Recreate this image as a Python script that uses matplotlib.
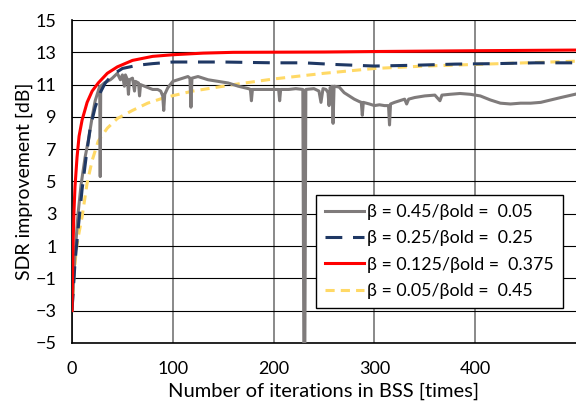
import matplotlib
matplotlib.use('Agg')
import matplotlib.pyplot as plt

plt.rcParams['font.family'] = ['Lato', 'DejaVu Sans']

# beta = 0.45 / beta_old = 0.05 (gray, noisy)
g_x = [0, 3, 6, 9, 13, 17, 20, 23, 26, 27.5, 28, 28.5, 32, 38, 40, 45, 48, 50, 52, 53, 55, 56, 57,
       60, 62, 63, 66, 67, 68, 72, 76, 80, 85, 88, 90, 91, 92, 95, 100, 105, 110, 115, 117, 118,
       119, 125, 135, 145, 155, 165, 175, 177, 178, 179, 185, 195, 205, 206, 207, 215, 222, 229,
       230, 231, 232, 240, 245, 247, 249, 252, 254, 255, 256, 258, 259, 260, 265, 270, 275, 280,
       285, 287, 288, 289, 295, 300, 305, 310, 314, 315, 316, 320, 325, 330, 332, 334, 340, 350,
       360, 365, 367, 375, 385, 395, 405, 415, 425, 435, 445, 455, 465, 475, 485, 499]
g_y = [-3, 0.5, 3, 4.8, 6.5, 7.8, 9, 10, 10.6, 10.9, 5.3, 10.9, 11.1, 11.3, 11.4, 11.7, 11.3, 11.6,
       10.9, 11.6, 11.3, 10.4, 11.3, 11.4, 10.6, 11.2, 11.1, 10.3, 11.0, 10.9, 10.8, 10.7, 10.7,
       10.6, 10.3, 9.4, 10.4, 10.8, 11.2, 11.3, 11.4, 11.5, 11.4, 9.6, 11.4, 11.5, 11.3, 11.2, 11.1,
       10.9, 10.75, 10.7, 10.0, 10.7, 10.7, 10.7, 10.7, 10.0, 10.7, 10.7, 10.75, 10.7, -5.5, -5.5,
       10.7, 10.75, 10.6, 9.9, 10.75, 10.7, 10.5, 9.7, 10.8, 10.9, 8.6, 10.9, 10.85, 10.5, 10.3,
       10.1, 9.95, 9.9, 9.1, 9.9, 9.8, 9.7, 9.75, 9.7, 9.7, 8.5, 9.8, 9.9, 10.0, 10.1, 9.8, 10.1,
       10.2, 10.3, 10.35, 10.0, 10.35, 10.4, 10.45, 10.4, 10.3, 10.05, 9.85, 9.8, 9.85, 9.85, 9.9,
       10.05, 10.2, 10.4]

# beta = 0.25 / beta_old = 0.25 (navy dashed)
n_x = [0, 3, 6, 10, 14, 18, 23, 28, 33, 40, 50, 65, 80, 100, 150, 200, 230, 260, 300, 340, 380,
       420, 460, 499]
n_y = [-3, 0, 2, 4.5, 6.5, 8.3, 9.6, 10.5, 11.1, 11.6, 12.0, 12.2, 12.3, 12.4, 12.4, 12.35, 12.35,
       12.25, 12.15, 12.2, 12.27, 12.3, 12.35, 12.35]

# beta = 0.125 / beta_old = 0.375 (red)
r_x = [0, 1, 2, 3, 4, 5, 7, 10, 15, 20, 26, 35, 45, 60, 80, 100, 130, 160, 250, 300, 400, 499]
r_y = [-3, 1, 3.2, 4.7, 5.6, 6.5, 7.8, 8.8, 9.9, 10.6, 11.1, 11.7, 12.1, 12.5, 12.75, 12.85, 12.95,
       13.0, 13.02, 13.05, 13.1, 13.14]

# beta = 0.05 / beta_old = 0.45 (yellow dashed)
y_x = [0, 2, 4, 6, 10, 15, 20, 26, 35, 45, 60, 75, 92, 120, 160, 200, 250, 300, 350, 400, 450, 499]
y_y = [-3, -0.8, 0.6, 1.5, 2.8, 4.9, 6.3, 7.5, 8.3, 8.9, 9.4, 9.85, 10.2, 10.6, 11.0, 11.35, 11.7,
       12.0, 12.15, 12.25, 12.35, 12.45]

labels = ['β = 0.45/βold =  0.05', 'β = 0.25/βold =  0.25',
          'β = 0.125/βold =  0.375', 'β = 0.05/βold =  0.45']

fig = plt.figure(figsize=(5.76, 4.01), dpi=100)
ax = fig.add_axes([0.125, 0.145, 0.875, 0.805])

ax.plot(g_x, g_y, color='#7f7b7b', lw=2.2, label=labels[0], zorder=3)
ax.plot(n_x, n_y, color='#1f3864', lw=2.2, dashes=(5.5, 3.5), label=labels[1], zorder=4)
ax.plot(r_x, r_y, color='#ff0000', lw=2.2, label=labels[2], zorder=5)
ax.plot(y_x, y_y, color='#ffd966', lw=2.2, dashes=(3, 2), label=labels[3], zorder=2)

ax.set_xlim(0, 500)
ax.set_ylim(-5, 15)
ax.set_xticks([0, 100, 200, 300, 400])
ax.set_yticks(range(-5, 16, 2))
ax.tick_params(length=0, labelsize=13)
ax.tick_params(axis='x', pad=13)
ax.tick_params(axis='y', pad=11)

ax.yaxis.grid(True, color='black', lw=0.8)
ax.xaxis.grid(True, color='#808080', lw=1.3)
ax.set_axisbelow(True)
for s in ['top', 'right']:
    ax.spines[s].set_visible(False)
for s in ['left', 'bottom']:
    ax.spines[s].set_color('black')
    ax.spines[s].set_linewidth(1.2)

ax.set_xlabel('Number of iterations in BSS [times]', fontsize=14.5, labelpad=4)
ax.set_ylabel('SDR improvement [dB]', fontsize=14, labelpad=2)

leg = ax.legend(loc='upper right', bbox_to_anchor=(0.974, 0.458), fontsize=12.8,
                fancybox=False, framealpha=1, edgecolor='black', handlelength=2.2,
                borderpad=0.5, labelspacing=0.58, handletextpad=0.2, borderaxespad=0)
leg.get_frame().set_linewidth(1.0)

fig.savefig('out.png', dpi=100)
